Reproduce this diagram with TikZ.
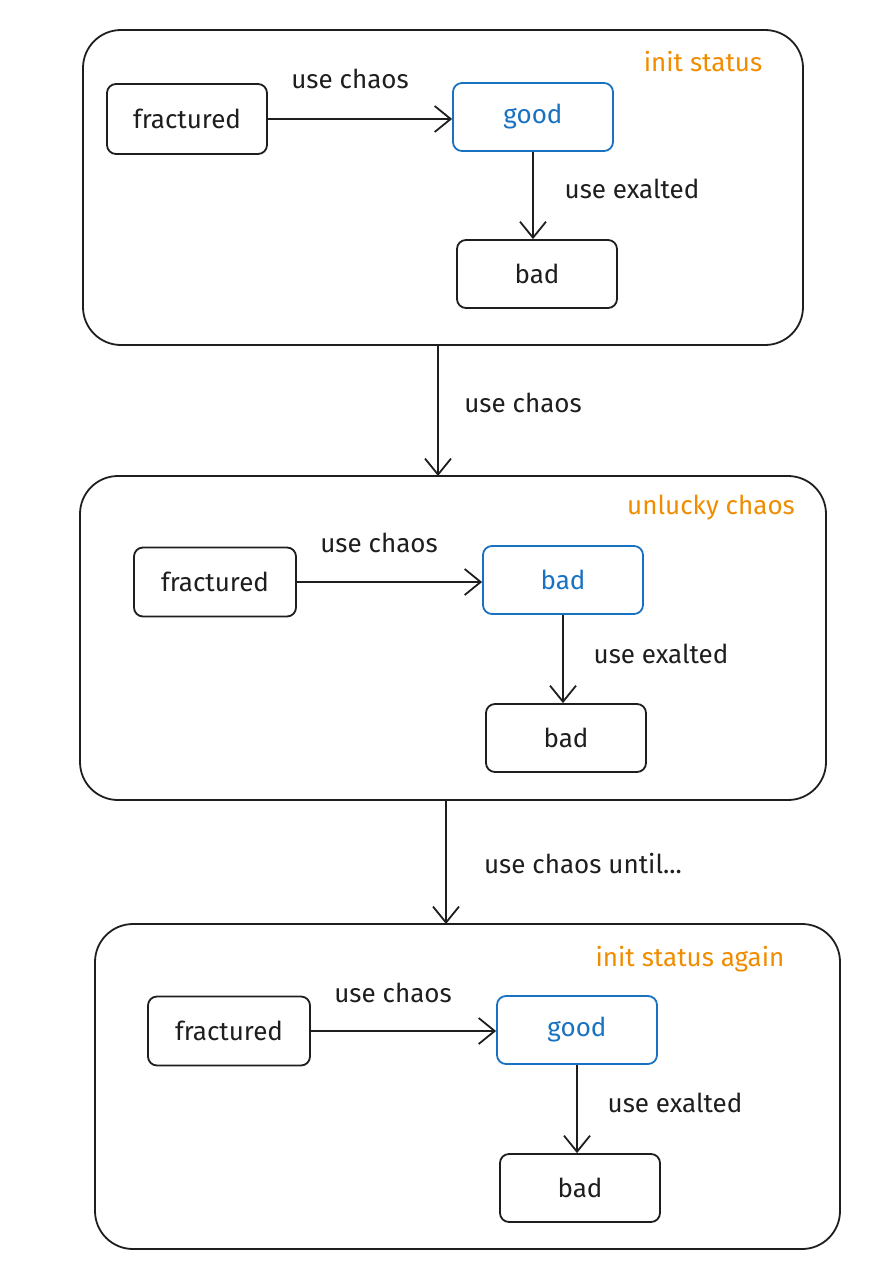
\documentclass[tikz,border=0pt]{standalone}
\usepackage{fontspec}
\setmainfont{Fira Sans}
\usetikzlibrary{arrows.meta}
\definecolor{org}{HTML}{F08C00}
\definecolor{blu}{HTML}{1971C2}
\definecolor{ink}{HTML}{1E1E1E}
\begin{document}
\begin{tikzpicture}[x=1pt,y=-1pt,
  font=\fontsize{26}{30}\selectfont,
  cont/.style={draw=ink,line width=1.8pt,rounded corners=38pt},
  box/.style={draw=ink,line width=1.8pt,rounded corners=9pt,minimum width=160pt,minimum height=68pt,text=ink},
  hl/.style={box,draw=blu,text=blu},
  arr/.style={draw=ink,line width=1.8pt,-{Straight Barb[length=16pt,width=26pt]}},
  lab/.style={text=ink},
  tag/.style={text=org}]
\useasboundingbox (0,0) rectangle (888,1272);
% container 1
\draw[cont] (83,30) rectangle (803,345);
\node[tag] (t1) at (703,62) {init status};
\node[box,minimum width=160pt,minimum height=70pt] (f1) at (187,119) {fractured};
\node[hl] (g1) at (533,117) {good};
\node[box] (b1) at (537,274) {bad};
\draw[arr] (f1.east) -- (g1.west|-f1.east);
\node[lab] (l1) at (350,79) {use chaos};
\draw[arr] (g1.south) -- (g1.south|-b1.north);
\node[lab] (l2) at (632,189) {use exalted};
% link 1
\coordinate (c1s) at (438,345);
\coordinate (c1e) at (438,476);
\draw[arr] (c1s) -- (c1e);
\node[lab] (l3) at (523,403) {use chaos};
% container 2
\draw[cont] (80,476) rectangle (826,800);
\node[tag] (t2) at (711,508) {unlucky chaos};
\node[box,minimum width=162pt,minimum height=69pt] (f2) at (215,582) {fractured};
\node[hl] (g2) at (563,580) {bad};
\node[box] (b2) at (566,738) {bad};
\draw[arr] (f2.east) -- (g2.west|-f2.east);
\node[lab] (l4) at (379,543) {use chaos};
\draw[arr] (g2.south) -- (g2.south|-b2.north);
\node[lab] (l5) at (661,654) {use exalted};
% link 2
\coordinate (c2s) at (446,800);
\coordinate (c2e) at (446,924);
\draw[arr] (c2s) -- (c2e);
\node[lab] (l6) at (583,864) {use chaos until...};
% container 3
\draw[cont] (95,924) rectangle (840,1249);
\node[tag] (t3) at (690,959) {init status again};
\node[box,minimum width=162pt,minimum height=69pt] (f3) at (229,1031) {fractured};
\node[hl] (g3) at (577,1030) {good};
\node[box] (b3) at (580,1188) {bad};
\draw[arr] (f3.east) -- (g3.west|-f3.east);
\node[lab] (l7) at (393,993) {use chaos};
\draw[arr] (g3.south) -- (g3.south|-b3.north);
\node[lab] (l8) at (675,1103) {use exalted};
\end{tikzpicture}
\end{document}
